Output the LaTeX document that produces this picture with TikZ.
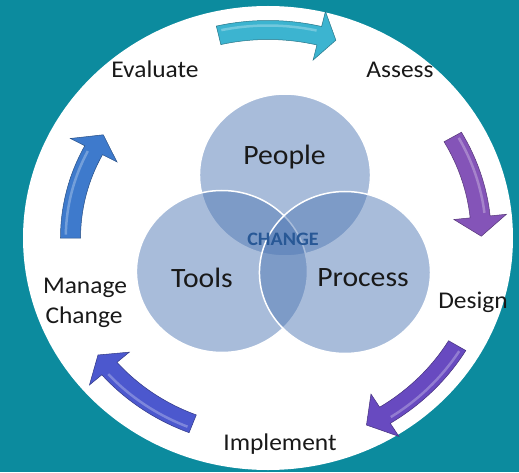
\documentclass[tikz,border=0pt]{standalone}
\usepackage{fontspec}
\setmainfont{Carlito}
\usepackage{graphicx}
\definecolor{bgteal}{RGB}{12,139,158}
\definecolor{venn}{RGB}{83,123,182}
\definecolor{arrTop}{RGB}{60,180,208}
\definecolor{arrRight}{RGB}{132,84,184}
\definecolor{arrBR}{RGB}{104,74,192}
\definecolor{arrBL}{RGB}{76,88,206}
\definecolor{arrLeft}{RGB}{62,122,204}
\definecolor{changeblue}{RGB}{40,88,150}
\definecolor{txt}{RGB}{25,25,25}
\newcommand\sx[1]{\scalebox{1.06}[1]{#1}}
\newcommand\cyclearrow[5]{%
  \filldraw[fill=#5, draw=#5!65!black, line width=0.5pt]
    (#1:{#4+9.5}) arc[start angle=#1, end angle=#2, radius={#4+9.5}]
    -- (#2:{#4+25}) -- (#3:#4) -- (#2:{#4-25}) -- (#2:{#4-9.5})
    arc[start angle=#2, end angle=#1, radius={#4-9.5}] -- cycle;
  \draw[white, opacity=0.28, line width=2.5pt]
    ({#1-1}:{#4+4.5}) arc[start angle={#1-1}, end angle={#2+1}, radius={#4+4.5}];
}
\tikzset{
  lbl/.style={font=\fontsize{24}{28}\selectfont, text=txt, inner sep=0pt, anchor=base},
  biglbl/.style={font=\fontsize{28}{32}\selectfont, text=txt, inner sep=0pt, anchor=base},
  vennc/.style={fill=venn, fill opacity=0.5, draw=white, draw opacity=1, line width=1.5pt},
}
\begin{document}
\begin{tikzpicture}[x=1pt, y=1pt]
\useasboundingbox (0,0) rectangle (519,472);
\fill[bgteal] (0,0) rectangle (519,472);
\begin{scope}[shift={(268,234)}, xscale=1.056]
  \fill[white] (0,0) circle[radius=232];
  \draw[vennc] (16.1,63) circle[radius=81];
  \draw[vennc] (-43.6,-33.5) circle[radius=81];
  \draw[vennc] (72.9,-34.5) circle[radius=81];
  \cyclearrow{103}{76.5}{72}{208}{arrTop}
  \cyclearrow{30}{6}{0.5}{202}{arrRight}
  \cyclearrow{-31}{-58}{-63.5}{209}{arrBR}
  \cyclearrow{-111}{-139}{-144}{199}{arrBL}
  \cyclearrow{180}{152}{146.5}{187}{arrLeft}
\end{scope}
\node[lbl] (evaluate) at (155,394) {\sx{Evaluate}};
\node[lbl] (assess) at (400,394) {\sx{Assess}};
\node[lbl] (design) at (473,164) {\sx{Design}};
\node[lbl] (implement) at (280,22) {\sx{Implement}};
\node[lbl] (manage) at (85,179) {\sx{Manage}};
\node[lbl] (change) at (84,149) {\sx{Change}};
\node[biglbl] (people) at (284.5,307) {\sx{People}};
\node[biglbl] (tools) at (202,185) {\sx{Tools}};
\node[biglbl] (process) at (363,186) {\sx{Process}};
\node[inner sep=0pt, anchor=base, text=changeblue, font=\bfseries\fontsize{19}{22}\selectfont] (core) at (283,227) {\sx{CHANGE}};
\end{tikzpicture}
\end{document}
